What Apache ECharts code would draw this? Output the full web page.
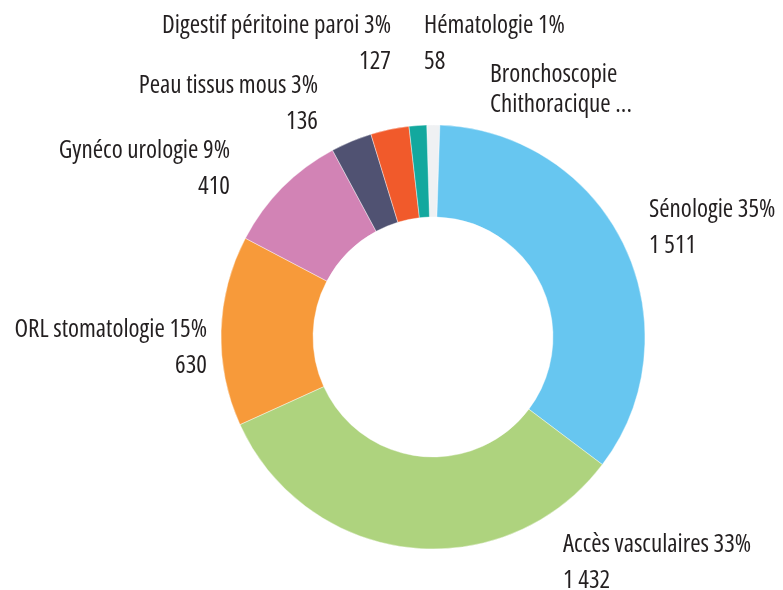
<!DOCTYPE html>
<html>
<head>
<meta charset="utf-8">
<script src="https://cdn.jsdelivr.net/npm/echarts@6/dist/echarts.min.js"></script>
<style>
  html, body { margin: 0; padding: 0; background: #ffffff; }
  #chart { width: 783px; height: 590px; }
</style>
</head>
<body>
<div id="chart"></div>
<script>
// ---- data ----
const categories = [
  'Bronchoscopie Chithoracique ...',
  'Sénologie',
  'Accès vasculaires',
  'ORL stomatologie',
  'Gynéco urologie',
  'Peau tissus mous',
  'Digestif péritoine paroi',
  'Hématologie'
];
const values = [43, 1511, 1432, 630, 410, 136, 127, 58];

// ---- styles (kept apart from data) ----
const colors = ['#eff1f3', '#67c6f0', '#aed37e', '#f79a3a', '#d283b5', '#505272', '#f15a2b', '#13a89e'];
const labelSpots = [
  { x: 490, y: 90,  align: 'left'  },
  { x: 649, y: 228, align: 'left'  },
  { x: 563, y: 563, align: 'left'  },
  { x: 207, y: 348, align: 'right' },
  { x: 230, y: 169, align: 'right' },
  { x: 318, y: 104, align: 'right' },
  { x: 391, y: 44,  align: 'right' },
  { x: 424, y: 44,  align: 'left'  }
];

function fmtNum(v) {
  return String(v).replace(/\B(?=(\d{3})+(?!\d))/g, ' ');
}

const chart = echarts.init(document.getElementById('chart'), null, { renderer: 'canvas' });

const seriesData = categories.map((name, i) => ({
  name: name,
  value: values[i],
  itemStyle: { color: colors[i] },
  label: i === 0 ? { lineHeight: 30 } : {}
}));

chart.setOption({
  backgroundColor: '#ffffff',
  animation: false,
  series: [{
    type: 'pie',
    center: [433, 337],
    radius: [120, 212],
    startAngle: 91.7,
    clockwise: true,
    percentPrecision: 0,
    avoidLabelOverlap: false,
    itemStyle: { borderColor: '#ffffff', borderWidth: 0.4 },
    label: {
      show: true,
      position: 'outside',
      color: '#231f20',
      fontStyle: 'condensed',
      fontWeight: 500,
      fontFamily: "'Open Sans', sans-serif",
      fontSize: 25,
      lineHeight: 36,
      formatter: function (p) {
        if (p.dataIndex === 0) {
          return p.name.replace(' ', '\n');
        }
        return p.name + ' ' + p.percent + '%\n' + fmtNum(p.value);
      }
    },
    labelLine: { show: false },
    labelLayout: function (params) {
      const s = labelSpots[params.dataIndex];
      return { x: s.x, y: s.y, align: s.align, verticalAlign: 'middle', hideOverlap: false };
    },
    emphasis: { disabled: true },
    data: seriesData
  }]
});
</script>
</body>
</html>
